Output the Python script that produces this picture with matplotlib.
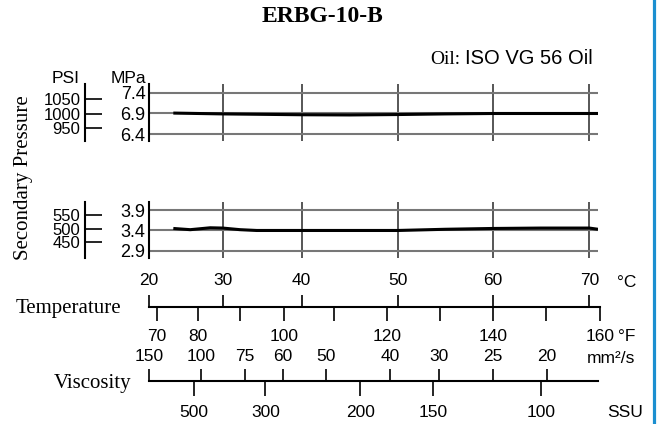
import numpy as np
import matplotlib
matplotlib.use("Agg")
import matplotlib.pyplot as plt
from matplotlib.lines import Line2D

plt.rcParams['font.family'] = ['Liberation Sans', 'DejaVu Sans']
SERIF = ['Liberation Serif', 'DejaVu Serif']

# ---- data ----
temp_c = [20, 30, 40, 50, 60, 70]
temp_f = [70, 80, 90, 100, 110, 120, 130, 140, 150, 160]
temp_f_labels = ['70', '80', '', '100', '', '120', '', '140', '', '160']

# viscosity scale: value and the temperature (degC) it sits over
visc_mm2s = [150, 100, 75, 60, 50, 40, 30, 25, 20]
visc_mm2s_at_c = [20.0, 27.1, 32.8, 37.6, 42.5, 49.2, 54.3, 60.0, 65.6]
visc_ssu = [500, 300, 200, 150, 100]
visc_ssu_at_c = [26.1, 35.4, 46.1, 53.7, 65.0]

high_mpa = [6.4, 6.9, 7.4]
high_psi = [950, 1000, 1050]
low_mpa = [2.9, 3.4, 3.9]
low_psi = [450, 500, 550]

high_t = [23.3, 30, 35, 40, 45, 50, 55, 60, 65, 70.9]
high_p = [6.91, 6.89, 6.88, 6.87, 6.865, 6.875, 6.89, 6.90, 6.90, 6.90]
low_t = [23.3, 25.6, 28.3, 30, 32.2, 34.3, 40, 50, 55, 60, 65, 70, 70.9]
low_p = [3.45, 3.42, 3.467, 3.46, 3.42, 3.40, 3.40, 3.40, 3.43, 3.45, 3.46, 3.46, 3.43]

# ---- layout ----
W, H = 657, 424
fig = plt.figure(figsize=(W / 100, H / 100), dpi=100)
fig.patch.set_facecolor('white')

# printed degC grid is not evenly spaced: pixel offset of each line from the left spine
grid_c = [10, 20, 30, 40, 50, 60, 70, 80]
grid_px = [-73.7, 0, 73.7, 152.7, 248.7, 343.7, 440.3, 536.9]
X0 = 149


def fwd(t):
    return np.interp(t, grid_c, grid_px)


def inv(p):
    return np.interp(p, grid_px, grid_c)


def box(x0, y0, x1, y1):
    return [x0 / W, 1 - y1 / H, (x1 - x0) / W, (y1 - y0) / H]


def temp_axes(x1, y0, y1):
    a = fig.add_axes(box(X0, y0, x1, y1))
    a.set_xscale('function', functions=(fwd, inv))
    a.set_xlim(inv(0), inv(x1 - X0))
    a.patch.set_visible(False)
    for s in a.spines.values():
        s.set_visible(False)
    return a


def ftext(x, y, s, **kw):
    return fig.text(x / W, 1 - y / H, s, **kw)


def panel(y0, y1, ylim, mpa, psi, t, p):
    ax = temp_axes(598, y0, y1)
    ax.set_ylim(*ylim)
    ax.spines['left'].set_visible(True)
    ax.spines['left'].set_linewidth(1.5)
    ax.set_xticks(temp_c[1:])
    ax.tick_params(axis='x', length=0, labelbottom=False)
    ax.set_yticks(mpa)
    ax.set_yticklabels(['%.1f' % v for v in mpa])
    ax.tick_params(axis='y', length=0, pad=2.5, labelsize=13)
    ax.grid(axis='x', color='#3a3a3a', lw=1.2)
    ax.grid(axis='y', color='#777777', lw=1.5)
    ax.plot(t, p, color='black', lw=2.2, solid_capstyle='butt')
    # PSI scale on its own spine left of the MPa one
    sec = ax.secondary_yaxis((85 - X0) / 449.0,
                             functions=(lambda m: m / 0.006895, lambda s: s * 0.006895))
    sec.set_yticks(psi)
    sec.tick_params(direction='in', length=12.2, width=1.2, pad=3.4, labelsize=12)
    sec.spines['left'].set_linewidth(1.5)
    return ax


panel(84, 141, (6.239, 7.609), high_mpa, high_psi, high_t, high_p)
panel(202, 258, (2.719, 4.105), low_mpa, low_psi, low_t, low_p)

# temperature scale: degC above, degF below
ax_c = temp_axes(600, 306.75, 307.25)
ax_c.spines['top'].set_visible(True)
ax_c.spines['top'].set_linewidth(1.5)
ax_c.set_yticks([])
ax_c.set_xticks(temp_c)
ax_c.set_xticklabels([str(v) for v in temp_c])
ax_c.tick_params(axis='x', top=True, bottom=False, labeltop=True, labelbottom=False,
                 length=8.3, width=1.2, pad=5, labelsize=12.5)

ax_f = temp_axes(600, 306.75, 307.25)
ax_f.set_yticks([])
ax_f.set_xticks([(f - 32) * 5 / 9 for f in temp_f])
ax_f.set_xticklabels(temp_f_labels)
ax_f.tick_params(axis='x', length=10.3, width=1.2, pad=5.5, labelsize=12.5)

# viscosity scale: mm2/s above, SSU below
ax_v = temp_axes(598, 380.75, 381.25)
ax_v.spines['top'].set_visible(True)
ax_v.spines['top'].set_linewidth(1.5)
ax_v.set_yticks([])
ax_v.set_xticks(visc_mm2s_at_c)
ax_v.set_xticklabels([str(v) for v in visc_mm2s])
ax_v.tick_params(axis='x', top=True, bottom=False, labeltop=True, labelbottom=False,
                 length=8.3, width=1.2, pad=4, labelsize=12.5)

ax_s = temp_axes(598, 380.75, 381.25)
ax_s.set_yticks([])
ax_s.set_xticks(visc_ssu_at_c)
ax_s.set_xticklabels([str(v) for v in visc_ssu])
ax_s.tick_params(axis='x', length=10.8, width=1.2, pad=6.5, labelsize=12.5)

# texts
ftext(322, 17, 'ERBG-10-B', family=SERIF, weight='bold', size=17, ha='center', va='center')
oil = ftext(593, 64.3, 'ISO VG 56 Oil', size=14.5, ha='right', va='baseline')
plt.annotate('Oil:', xy=(0, 0), xycoords=oil, xytext=(-5, 0),
             textcoords='offset pixels', family=SERIF, size=14,
             ha='right', va='bottom', annotation_clip=False)
ftext(80, 83.3, 'PSI', size=12.5, ha='right', va='baseline')
ftext(146, 83.3, 'MPa', size=12.5, ha='right', va='baseline')
ftext(24, 178, 'Secondary Pressure', family=SERIF, size=15, rotation=90,
      ha='center', va='center')
ftext(68.5, 313.3, 'Temperature', family=SERIF, size=15, ha='center', va='baseline')
ftext(92.5, 388.3, 'Viscosity', family=SERIF, size=15, ha='center', va='baseline')
ftext(617, 287.3, '°C', size=12.5, ha='left', va='baseline')
ftext(618, 340.7, '°F', size=12.5, ha='left', va='baseline')
ftext(587, 363, 'mm²/s', size=12.5, ha='left', va='baseline')
ftext(607, 416.7, 'SSU', size=12.5, ha='left', va='baseline')

fig.add_artist(Line2D([654 / W, 654 / W], [0, 1], color='#1b8fd0', lw=2.3,
                      transform=fig.transFigure))

fig.savefig('out.png', dpi=100)
